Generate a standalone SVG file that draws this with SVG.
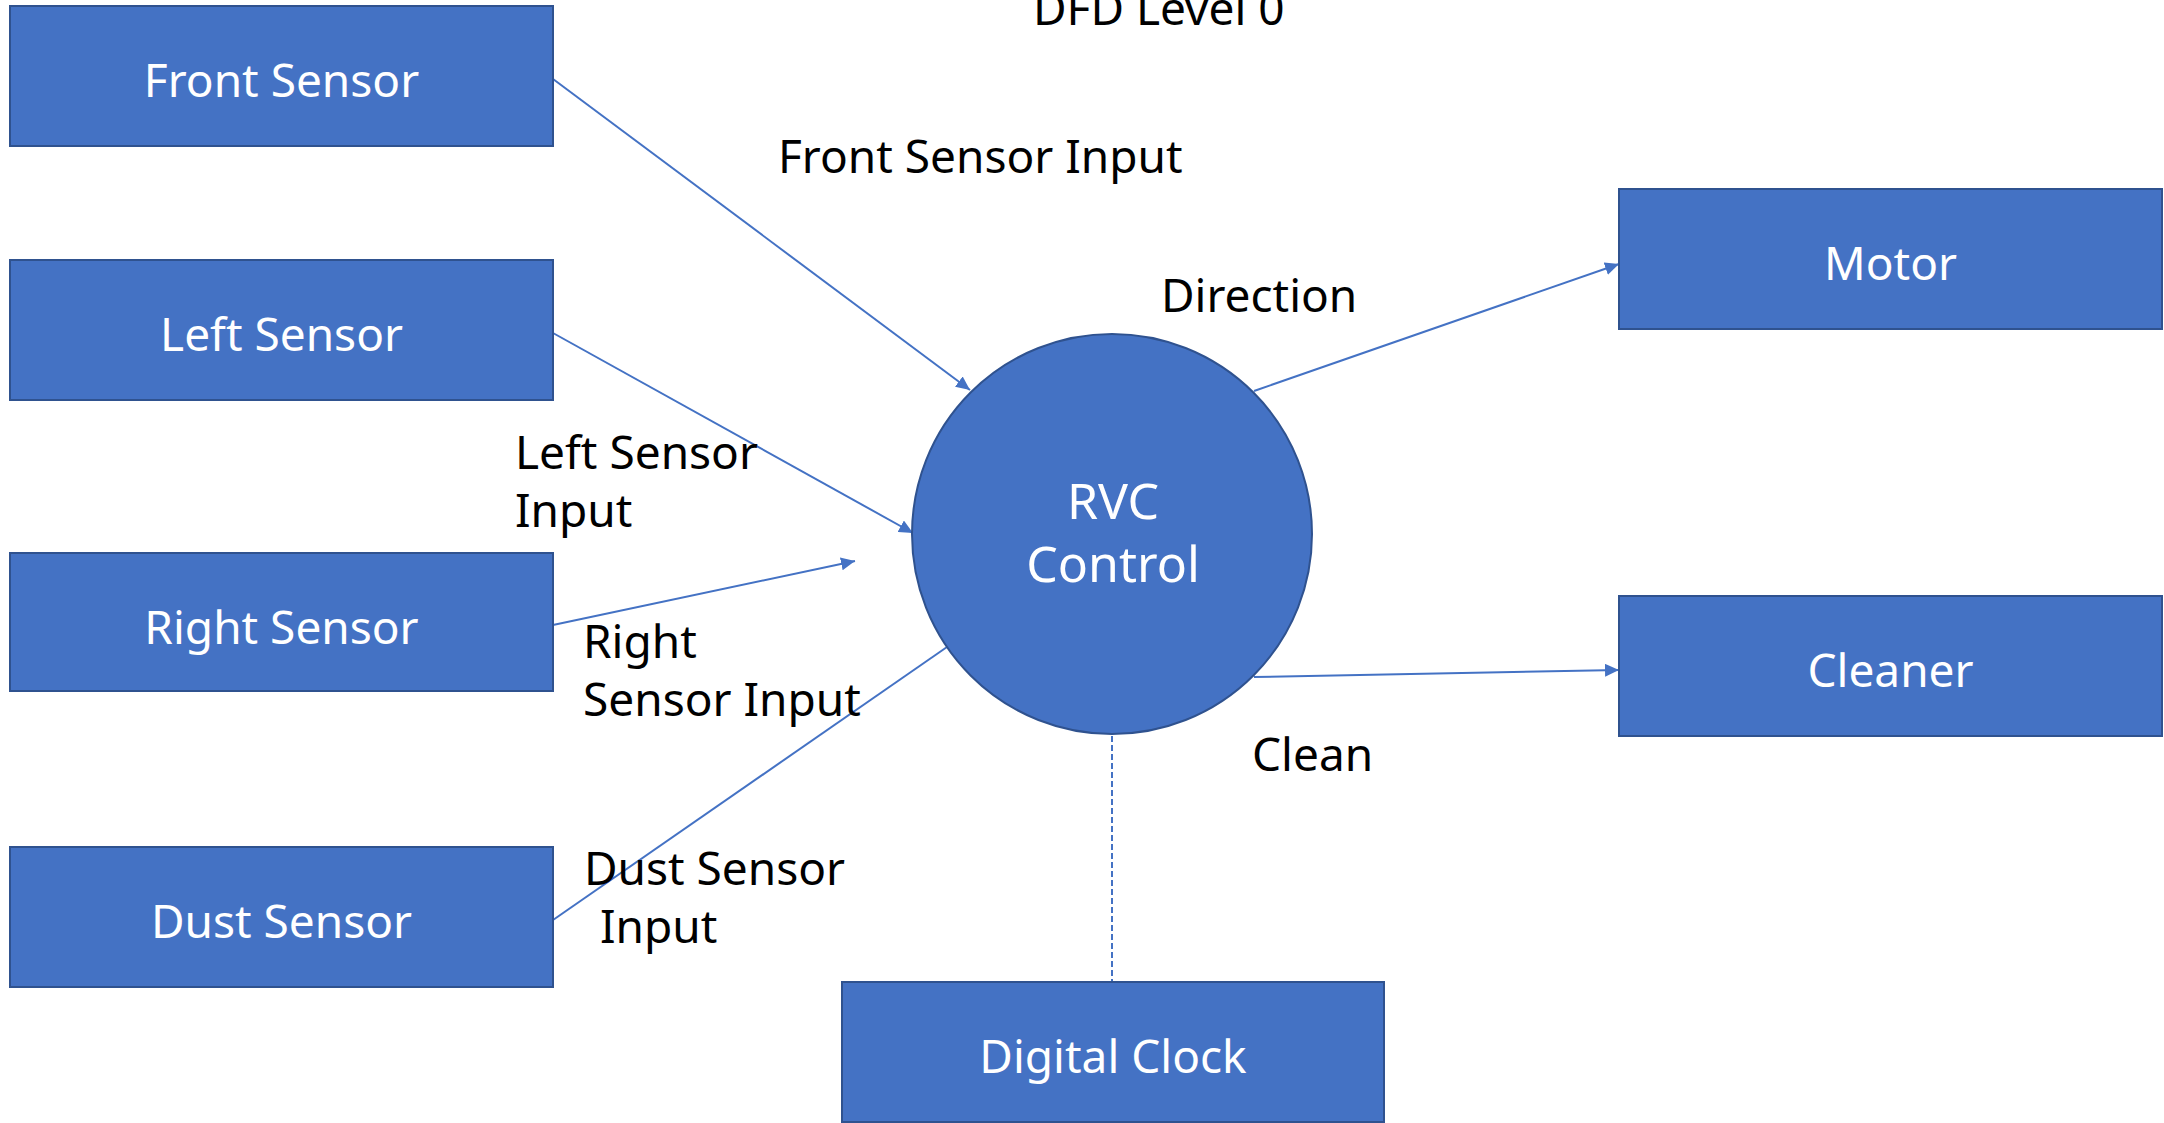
<svg xmlns="http://www.w3.org/2000/svg" width="2164" height="1123" viewBox="0 0 2164 1123">
<defs>
<style>
.box{fill:#4472C4;stroke:#2F528F;stroke-width:2}
.nl{font-family:"Noto Sans","Open Sans","Liberation Sans",sans-serif;font-size:46px;fill:#FFFFFF;text-anchor:middle}
.cl{font-family:"Noto Sans","Open Sans","Liberation Sans",sans-serif;font-size:50px;fill:#FFFFFF;text-anchor:middle}
.lbl{font-family:"Noto Sans","Open Sans","Liberation Sans",sans-serif;font-size:46px;fill:#000000}
.con{fill:none;stroke:#4472C4;stroke-width:2}
.dash{fill:none;stroke:#4472C4;stroke-width:2;stroke-dasharray:6 3}
</style>
<marker id="arr" markerUnits="userSpaceOnUse" viewBox="0 0 14 13" refX="14" refY="6.5" markerWidth="14" markerHeight="13" orient="auto">
<path d="M0,0 L14,6.5 L0,13 Z" fill="#4472C4"/>
</marker>
</defs>
<rect width="2164" height="1123" fill="#FFFFFF"/>
<text class="lbl" x="1033" y="25">DFD Level 0</text>
<g id="connectors">
<line class="con" x1="553" y1="79" x2="970" y2="390" marker-end="url(#arr)"/>
<line class="con" x1="553" y1="333" x2="913" y2="533" marker-end="url(#arr)"/>
<line class="con" x1="553" y1="625" x2="855" y2="561" marker-end="url(#arr)"/>
<line class="con" x1="553" y1="920" x2="947" y2="647"/>
<line class="con" x1="1254" y1="391" x2="1619" y2="264" marker-end="url(#arr)"/>
<line class="con" x1="1254" y1="677" x2="1619" y2="670" marker-end="url(#arr)"/>
<line class="dash" x1="1112" y1="736" x2="1112" y2="982"/>
</g>
<g id="front-sensor">
<rect class="box" x="10" y="6" width="543" height="140"/>
<text class="nl" x="281.5" y="97">Front Sensor</text>
</g>
<g id="left-sensor">
<rect class="box" x="10" y="260" width="543" height="140"/>
<text class="nl" x="281.5" y="351">Left Sensor</text>
</g>
<g id="right-sensor">
<rect class="box" x="10" y="553" width="543" height="138"/>
<text class="nl" x="281.5" y="644">Right Sensor</text>
</g>
<g id="dust-sensor">
<rect class="box" x="10" y="847" width="543" height="140"/>
<text class="nl" x="281.5" y="938">Dust Sensor</text>
</g>
<g id="rvc-control">
<circle class="box" cx="1112" cy="534" r="200"/>
<text class="cl" x="1113" y="519">RVC</text>
<text class="cl" x="1113" y="582">Control</text>
</g>
<g id="motor">
<rect class="box" x="1619" y="189" width="543" height="140"/>
<text class="nl" x="1890.5" y="280">Motor</text>
</g>
<g id="cleaner">
<rect class="box" x="1619" y="596" width="543" height="140"/>
<text class="nl" x="1890.5" y="687">Cleaner</text>
</g>
<g id="digital-clock">
<rect class="box" x="842" y="982" width="542" height="140"/>
<text class="nl" x="1113" y="1073">Digital Clock</text>
</g>
<g id="labels">
<text class="lbl" x="778" y="173">Front Sensor Input</text>
<text class="lbl" x="1161" y="312">Direction</text>
<text class="lbl" x="515" y="469">Left Sensor</text>
<text class="lbl" x="515" y="527">Input</text>
<text class="lbl" x="583" y="658">Right</text>
<text class="lbl" x="583" y="716">Sensor Input</text>
<text class="lbl" x="1252" y="771">Clean</text>
<text class="lbl" x="584" y="885">Dust Sensor</text>
<text class="lbl" x="600" y="943">Input</text>
</g>
</svg>
